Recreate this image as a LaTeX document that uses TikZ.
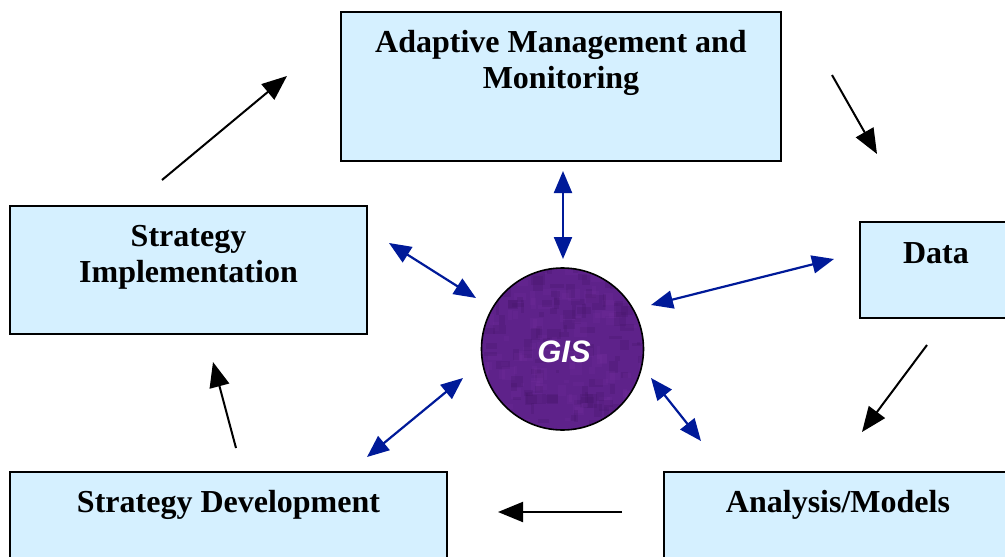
\documentclass[tikz,border=0pt]{standalone}
\usepackage{fontspec}
\setmainfont{Liberation Serif}
\newfontfamily\gisfont{Liberation Sans}
\usetikzlibrary{arrows.meta}
\definecolor{boxblue}{RGB}{213,240,255}
\definecolor{arrowblue}{RGB}{0,26,153}
\definecolor{gispurple}{RGB}{94,34,138}
\definecolor{gisdark}{RGB}{66,18,100}
\definecolor{gislight}{RGB}{118,48,160}
\begin{document}
\begin{tikzpicture}[x=1pt,y=-1pt,
  box/.style={draw=black,line width=1.6pt,fill=boxblue,rectangle,inner sep=0pt},
  lbl/.style={font=\fontsize{32}{36}\selectfont\bfseries,anchor=base,inner sep=0pt},
  flow/.style={draw=black,line width=2pt,-{Triangle[length=25pt,width=20pt]}},
  link/.style={draw=arrowblue,line width=2.2pt,{Triangle[length=22pt,width=18pt]}-{Triangle[length=22pt,width=18pt]}}]
\useasboundingbox (0,0) rectangle (1005,557);

% boxes
\node[box,minimum width=440pt,minimum height=149pt] (amm) at (561,86.5) {};
\node[box,minimum width=357pt,minimum height=128pt] (si) at (188.5,270) {};
\node[box,minimum width=152pt,minimum height=96pt] (data) at (936,270) {};
\node[box,minimum width=437pt,minimum height=93pt] (sd) at (228.5,518.5) {};
\node[box,minimum width=348pt,minimum height=93pt] (am) at (838,518.5) {};

% labels
\node[lbl] (amm1) at (561,52) {Adaptive Management and};
\node[lbl] (amm2) at (561,88) {Monitoring};
\node[lbl] (si1) at (188.5,246) {Strategy};
\node[lbl] (si2) at (188.5,282) {Implementation};
\node[lbl] (datal) at (936,263) {Data};
\node[lbl] (sdl) at (228.5,512) {Strategy Development};
\node[lbl] (aml) at (838,512) {Analysis/Models};

% GIS circle
\node[circle,fill=gispurple,minimum size=162pt,inner sep=0pt] (gis) at (562.5,349) {};
\begin{scope}
  \clip (gis.center) circle[radius=81pt];
  \pgfmathsetseed{11}
  \foreach \i in {1,...,260}{
    \pgfmathsetmacro{\px}{480+166*rnd}
    \pgfmathsetmacro{\py}{266+166*rnd}
    \pgfmathsetmacro{\pw}{3+12*rnd}
    \pgfmathsetmacro{\ph}{3+12*rnd}
    \ifodd\i
      \fill[gisdark,opacity=0.22] (\px,\py) rectangle ++(\pw,\ph);
    \else
      \fill[gislight,opacity=0.2] (\px,\py) rectangle ++(\pw,\ph);
    \fi
  }
\end{scope}
\draw[line width=1.6pt] (gis.center) circle[radius=81pt];
\node[font=\gisfont\fontsize{31}{34}\selectfont\bfseries\itshape,text=white,anchor=base,inner sep=0pt] (gisl) at (564,362) {GIS};

% cycle arrows (black)
\coordinate (f1a) at (162,180); \coordinate (f1b) at (287,76);
\coordinate (f2a) at (832,75);  \coordinate (f2b) at (877,154);
\coordinate (f3a) at (927,345); \coordinate (f3b) at (862,432);
\coordinate (f4a) at (622,512); \coordinate (f4b) at (498,512);
\coordinate (f5a) at (236,448); \coordinate (f5b) at (213,362);
\draw[flow] (f1a) -- (f1b);
\draw[flow] (f2a) -- (f2b);
\draw[flow] (f3a) -- (f3b);
\draw[flow] (f4a) -- (f4b);
\draw[flow] (f5a) -- (f5b);

% GIS links (blue)
\coordinate (l1a) at (563,171); \coordinate (l1b) at (563,259);
\coordinate (l2a) at (389,243); \coordinate (l2b) at (476,298);
\coordinate (l3a) at (651,305); \coordinate (l3b) at (834,259);
\coordinate (l4a) at (651,378); \coordinate (l4b) at (701,441);
\coordinate (l5a) at (463,378); \coordinate (l5b) at (367,457);
\draw[link] (l1a) -- (l1b);
\draw[link] (l2a) -- (l2b);
\draw[link] (l3a) -- (l3b);
\draw[link] (l4a) -- (l4b);
\draw[link] (l5a) -- (l5b);
\end{tikzpicture}
\end{document}
